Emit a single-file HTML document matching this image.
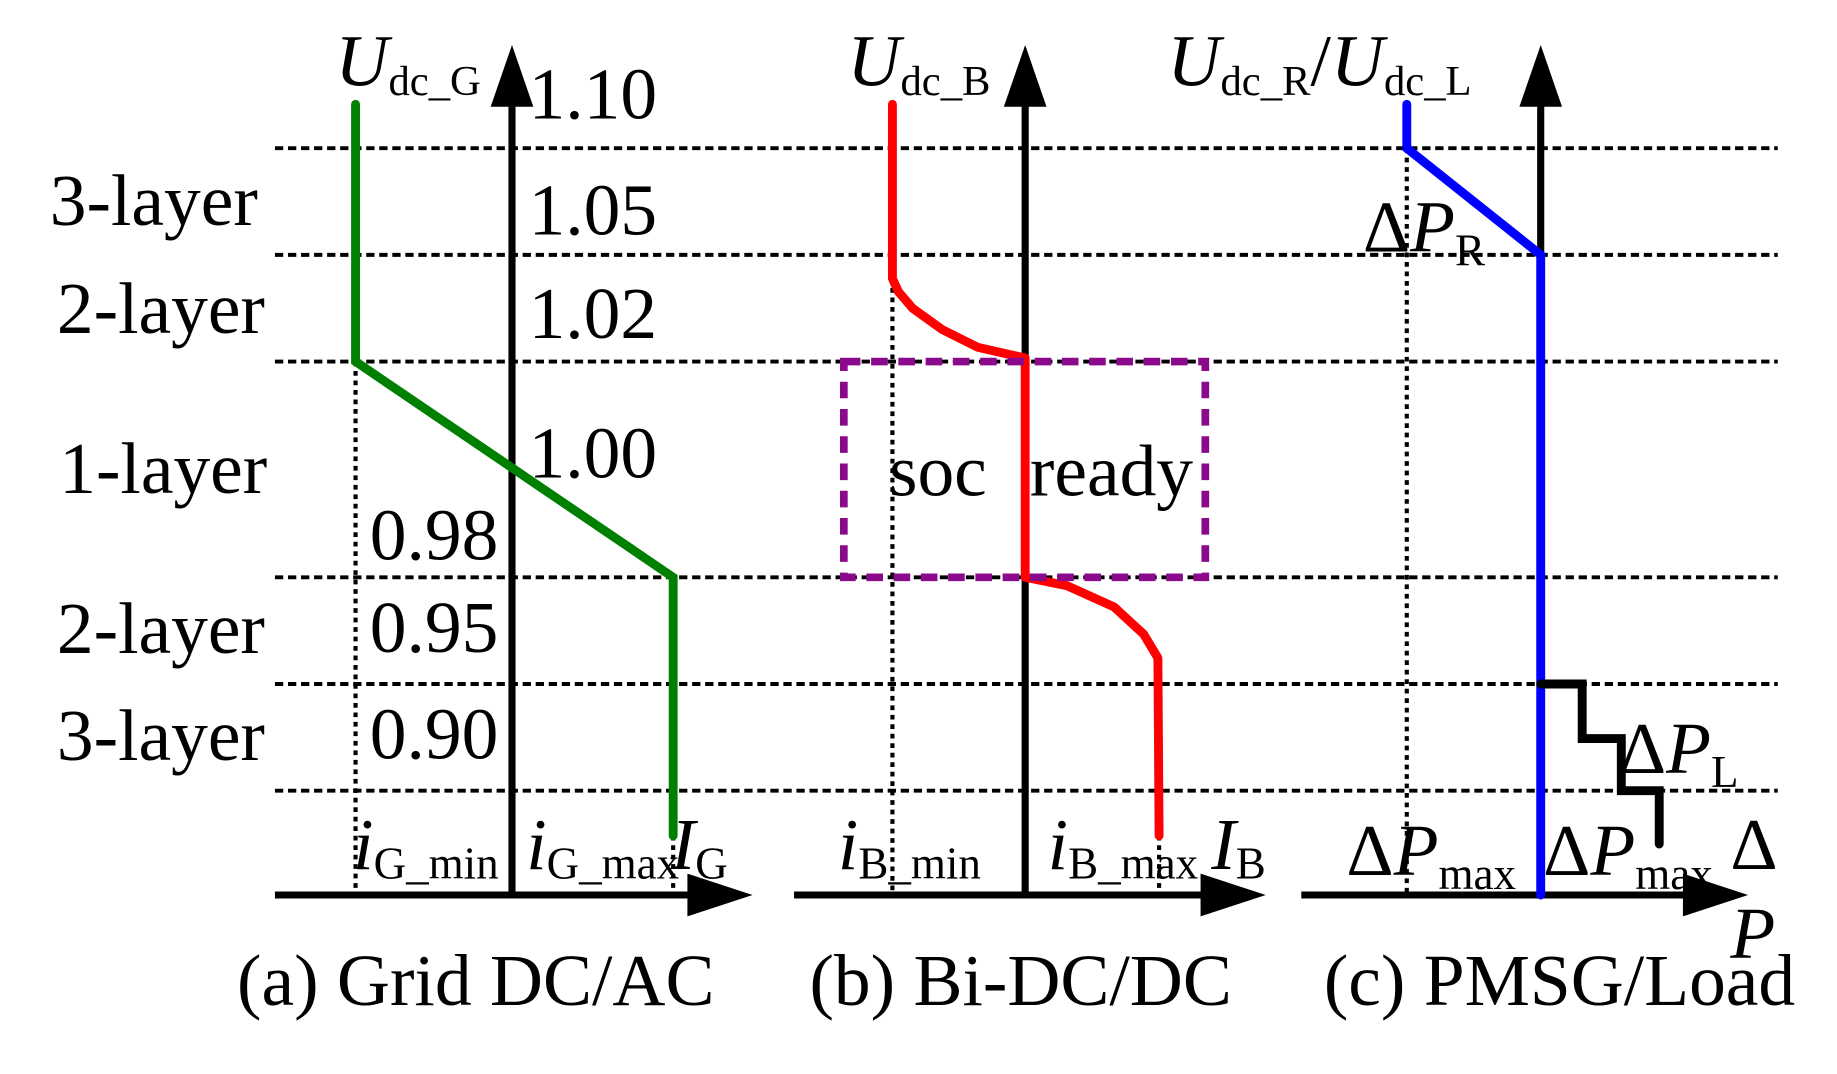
<!DOCTYPE html>
<html><head><meta charset="utf-8"><style>
html,body{margin:0;padding:0;background:#fff;}
svg{display:block;}
text{font-family:"Liberation Serif",serif;fill:#000;}
.it{font-style:italic;}
</style></head><body>
<svg width="1837" height="1074" viewBox="0 0 1550 906" preserveAspectRatio="none" xmlns="http://www.w3.org/2000/svg">
<g stroke="#000" stroke-width="3.3" stroke-dasharray="7,4" fill="none">
<line x1="232" y1="125" x2="1500" y2="125"/>
<line x1="232" y1="215" x2="1500" y2="215"/>
<line x1="232" y1="305" x2="1500" y2="305"/>
<line x1="232" y1="487" x2="1500" y2="487"/>
<line x1="232" y1="577" x2="1500" y2="577"/>
<line x1="232" y1="667" x2="1500" y2="667"/>
</g>
<g stroke="#000" stroke-width="3.5" stroke-dasharray="4,4" fill="none">
<line x1="300" y1="305" x2="300" y2="755"/>
<line x1="568" y1="705" x2="568" y2="755"/>
<line x1="753" y1="235" x2="753" y2="755"/>
<line x1="978" y1="705" x2="978" y2="755"/>
<line x1="1187" y1="125" x2="1187" y2="755"/>
</g>
<g stroke="#000" stroke-width="6" fill="none">
<line x1="432" y1="755" x2="432" y2="80"/>
<line x1="232" y1="755" x2="590" y2="755"/>
<line x1="865" y1="755" x2="865" y2="80"/>
<line x1="670" y1="755" x2="1020" y2="755"/>
<line x1="1300" y1="755" x2="1300" y2="80"/>
<line x1="1098" y1="755" x2="1430" y2="755"/>
</g>
<g fill="#000">
<polygon points="432,38 414,90 450,90"/>
<polygon points="865,38 847,90 883,90"/>
<polygon points="1300,38 1282,90 1318,90"/>
<polygon points="635,755 580,737 580,773"/>
<polygon points="1068,755 1013,737 1013,773"/>
<polygon points="1475,755 1420,737 1420,773"/>
</g>
<polyline points="300,88 300,305 568,487 568,705" stroke="#008000" stroke-width="7.5" fill="none" stroke-linecap="round"/>
<polyline points="753,88 753,235 758,246 770,260 795,278 825,293 865,302 865,487 900,494 940,512 965,535 977,555 978,705" stroke="#ff0000" stroke-width="7.5" fill="none" stroke-linecap="round" stroke-linejoin="round"/>
<rect x="712" y="305" width="305" height="182" stroke="#8b0a8b" stroke-width="6.5" stroke-dasharray="14,9" fill="none"/>
<polyline points="1187,88 1187,125 1300,215 1300,755" stroke="#0000ff" stroke-width="7.5" fill="none" stroke-linecap="round"/>
<polyline points="1300,577 1335,577 1335,623 1368,623 1368,667 1400,667 1400,712" stroke="#000" stroke-width="7.5" fill="none" stroke-linecap="round"/>
<g font-size="62">
<text x="283" y="72"><tspan class="it">U</tspan><tspan font-size="36" dy="8">dc_G</tspan></text>
<text x="446" y="100">1.10</text>
<text x="446" y="198">1.05</text>
<text x="446" y="285">1.02</text>
<text x="446" y="403">1.00</text>
<text x="312" y="472">0.98</text>
<text x="312" y="550">0.95</text>
<text x="312" y="640">0.90</text>
<text x="42" y="190">3-layer</text>
<text x="48" y="281">2-layer</text>
<text x="50" y="416">1-layer</text>
<text x="48" y="551">2-layer</text>
<text x="48" y="641">3-layer</text>
<text x="298" y="733"><tspan class="it">i</tspan><tspan font-size="38" dy="8">G_min</tspan></text>
<text x="444" y="733"><tspan class="it">i</tspan><tspan font-size="38" dy="8">G_max</tspan></text>
<text x="566" y="733"><tspan class="it">I</tspan><tspan font-size="38" dy="8">G</tspan></text>
<text x="200" y="848">(a) Grid DC/AC</text>

<text x="715" y="72"><tspan class="it">U</tspan><tspan font-size="36" dy="8">dc_B</tspan></text>
<text x="750" y="418">soc</text>
<text x="869" y="418">ready</text>
<text x="707" y="733"><tspan class="it">i</tspan><tspan font-size="38" dy="8">B_min</tspan></text>
<text x="884" y="733"><tspan class="it">i</tspan><tspan font-size="38" dy="8">B_max</tspan></text>
<text x="1022" y="733"><tspan class="it">I</tspan><tspan font-size="38" dy="8">B</tspan></text>
<text x="683" y="848">(b) Bi-DC/DC</text>

<text x="985" y="72"><tspan class="it">U</tspan><tspan font-size="36" dy="8">dc_R</tspan><tspan dy="-8">/</tspan><tspan class="it">U</tspan><tspan font-size="36" dy="8">dc_L</tspan></text>
<text x="1150" y="212">Δ<tspan class="it">P</tspan><tspan font-size="38" dy="12">R</tspan></text>
<text x="1366" y="652">Δ<tspan class="it">P</tspan><tspan font-size="38" dy="12">L</tspan></text>
<text x="1136" y="738">Δ<tspan class="it">P</tspan><tspan font-size="38" dy="12">max</tspan></text>
<text x="1302" y="738">Δ<tspan class="it">P</tspan><tspan font-size="38" dy="12">max</tspan></text>
<text x="1460" y="733">Δ</text>
<text x="1460" y="808" class="it">P</text>
<text x="1117" y="848">(c) PMSG/Load</text>
</g>
</svg>
</body></html>
